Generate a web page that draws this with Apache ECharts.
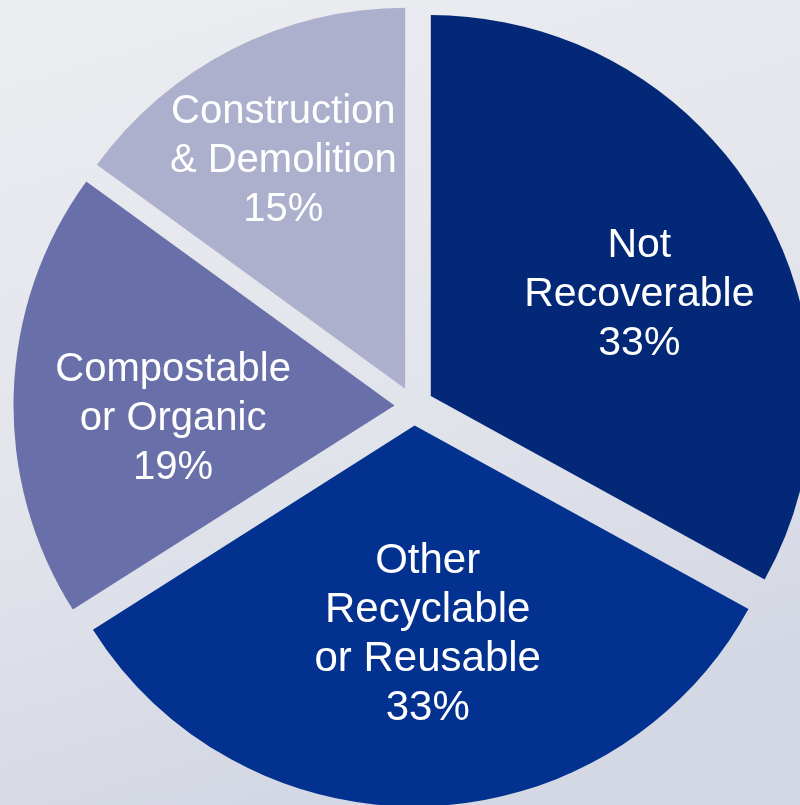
<!DOCTYPE html>
<html>
<head>
<meta charset="utf-8">
<script src="https://cdn.jsdelivr.net/npm/echarts@6/dist/echarts.min.js"></script>
<style>
html,body{margin:0;padding:0;width:800px;height:805px;overflow:hidden;}
#chart{width:800px;height:805px;}
</style>
</head>
<body>
<div id="chart"></div>
<script>
// Data
const categories = ['Not\nRecoverable', 'Other\nRecyclable\nor Reusable', 'Compostable\nor Organic', 'Construction\n& Demolition'];
const percentValues = [33, 33, 19, 15];

// Styles (kept separate from data)
const sliceColors = ['#032878', '#03318f', '#6970a9', '#adb0cc'];
const labelFontSizes = [41, 42, 40, 40];
const labelShifts = [[42, -3], [7, 16], [-28, 20], [-34, -55]];

const chart = echarts.init(document.getElementById('chart'));
const seriesData = categories.map((name, i) => ({
  name: name,
  value: percentValues[i],
  selected: true,
  itemStyle: { color: sliceColors[i] },
  label: { fontSize: labelFontSizes[i] }
}));

chart.setOption({
  animation: false,
  backgroundColor: {
    type: 'linear', x: 0, y: 0, x2: 0.3, y2: 1,
    colorStops: [
      { offset: 0, color: '#ecedf1' },
      { offset: 0.6, color: '#e2e4eb' },
      { offset: 1, color: '#d4d8e4' }
    ]
  },
  series: [{
    type: 'pie',
    center: [414, 406],
    radius: [0, 381],
    startAngle: 90,
    clockwise: true,
    selectedMode: 'multiple',
    selectedOffset: 19.5,
    avoidLabelOverlap: false,
    silent: true,
    emphasis: { disabled: true },
    itemStyle: { borderWidth: 0 },
    label: {
      show: true,
      position: 'inside',
      color: '#ffffff',
      fontFamily: 'Liberation Sans, Arial, sans-serif',
      fontSize: 40,
      lineHeight: 49,
      align: 'center',
      formatter: p => p.name + '\n' + p.value + '%'
    },
    labelLayout: p => ({ dx: labelShifts[p.dataIndex][0], dy: labelShifts[p.dataIndex][1] }),
    labelLine: { show: false },
    data: seriesData
  }]
});
</script>
</body>
</html>
